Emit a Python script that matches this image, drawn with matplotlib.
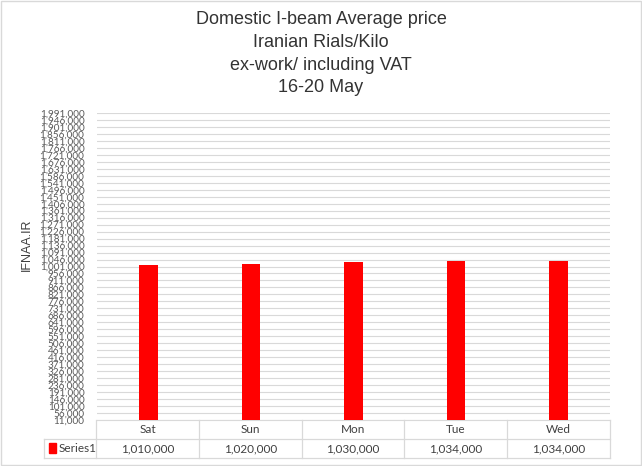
import matplotlib
matplotlib.use("Agg")
import matplotlib.pyplot as plt
import numpy as np
from matplotlib.lines import Line2D
from matplotlib.patches import Rectangle

categories = ["Sat", "Sun", "Mon", "Tue", "Wed"]
values = [1010000, 1020000, 1030000, 1034000, 1034000]
series_name = "Series1"
title_lines = ["Domestic I-beam Average price", "Iranian Rials/Kilo", "ex-work/ including VAT", "16-20 May"]
y_label = "IFNAA.IR"
y_min, y_max, y_step = 11000, 1991000, 45000

W, H = 642, 466
fig = plt.figure(figsize=(W / 100, H / 100), dpi=100)

def fx(px):
    return px / W

def fy(py):
    return 1 - py / H

left_px, right_px, top_px, bottom_px = 97, 610, 113, 420
ax = fig.add_axes([fx(left_px), fy(bottom_px), fx(right_px - left_px), (bottom_px - top_px) / H])

x = np.arange(len(categories))
ax.bar(x, values, width=0.18, color="#ff0000", zorder=3)
ax.set_xlim(-0.5, len(categories) - 0.5)
ax.set_ylim(y_min, y_max)
ticks = np.arange(y_min, y_max + 1, y_step)
ax.set_yticks(ticks)
ax.set_yticklabels([f"{t:,}" for t in ticks], fontsize=7.2, family="Lato", color="#595959")
ax.tick_params(axis="y", length=0, pad=9)
ax.set_xticks([])
ax.grid(axis="y", color="#d9d9d9", linewidth=0.8, zorder=0)
for s in ["top", "right", "left"]:
    ax.spines[s].set_visible(False)
ax.spines["bottom"].set_color("#d9d9d9")

# title
tfam = ["Liberation Sans", "DejaVu Sans"]
for i, line in enumerate(title_lines):
    fig.text(0.5, fy(20 + i * 22.5), line, ha="center", va="center", fontsize=13, family=tfam, color="#333333")

fig.text(fx(27), fy(245), y_label, rotation=90, ha="center", va="center", fontsize=9, family=tfam, color="#404040")

# data table
gc = "#d9d9d9"
col_edges = [96, 199, 302, 404, 507, 610]
r0, r1, r2 = 420, 439, 458
def hline(y, x0, x1):
    fig.add_artist(Line2D([fx(x0), fx(x1)], [fy(y), fy(y)], color=gc, linewidth=0.9))
def vline(xp, y0, y1):
    fig.add_artist(Line2D([fx(xp), fx(xp)], [fy(y0), fy(y1)], color=gc, linewidth=0.9))
hline(r1, 44, 610)
hline(r2, 44, 610)
for e in col_edges:
    vline(e, r0, r2)
vline(44, r1, r2)
for i, c in enumerate(categories):
    cx = (col_edges[i] + col_edges[i + 1]) / 2
    fig.text(fx(cx), fy((r0 + r1) / 2), c, ha="center", va="center", fontsize=8.5, family="Lato", color="#404040")
    fig.text(fx(cx), fy((r1 + r2) / 2), f"{values[i]:,}", ha="center", va="center", fontsize=8.5, family="Lato", color="#404040")
fig.add_artist(Rectangle((fx(49), fy(453)), fx(7), 10 / H, color="#ff0000"))
fig.text(fx(59), fy((r1 + r2) / 2), series_name, ha="left", va="center", fontsize=8.5, family="Lato", color="#404040")

# outer border
fig.add_artist(Rectangle((fx(1), fy(465)), fx(640), 464 / H, fill=False, edgecolor="#d9d9d9", linewidth=1))

fig.savefig("out.png", dpi=100)
